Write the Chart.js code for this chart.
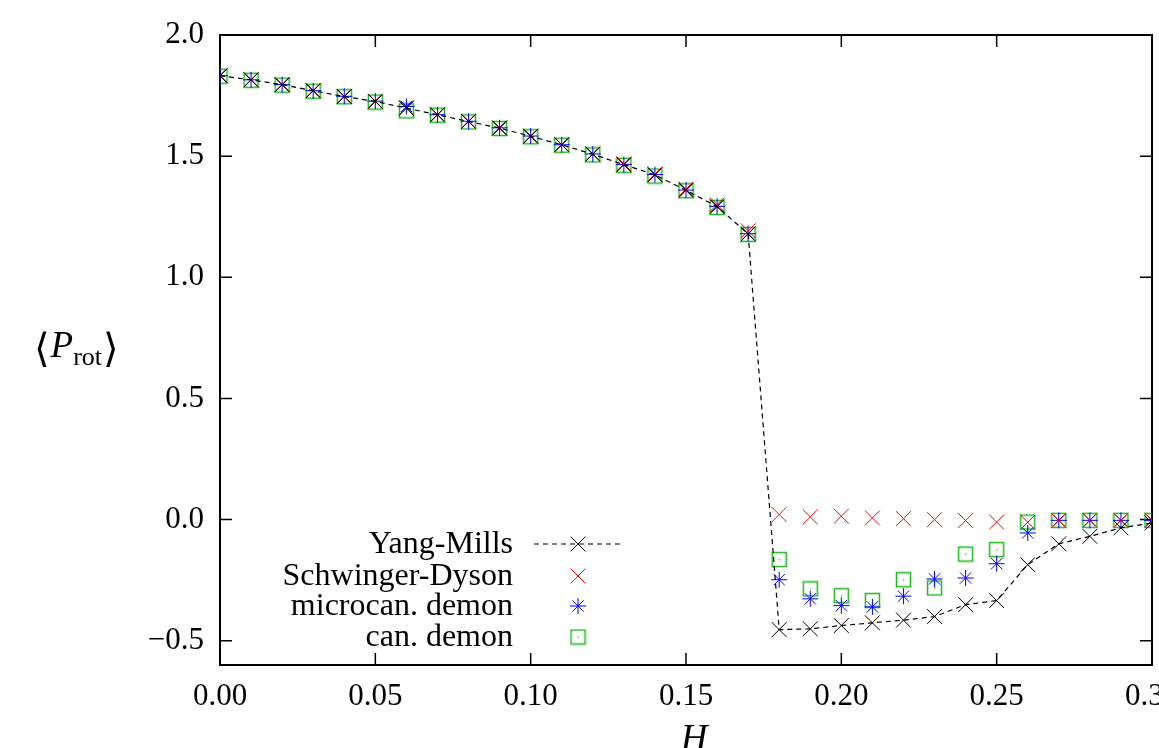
<!DOCTYPE html>
<html>
<head>
<meta charset="utf-8">
<script src="https://cdn.jsdelivr.net/npm/chart.js@4.4.1/dist/chart.umd.min.js"></script>
<style>
  html, body { margin: 0; padding: 0; overflow: hidden; background: #fff; }
  #wrap { position: absolute; left: 0; top: 0; width: 1200px; height: 748px; }
</style>
</head>
<body>
<div id="wrap"><canvas id="rotchart" width="1200" height="748"></canvas></div>
<script>
// H values
const hValues = [0.00, 0.01, 0.02, 0.03, 0.04, 0.05, 0.06, 0.07, 0.08, 0.09, 0.10,
  0.11, 0.12, 0.13, 0.14, 0.15, 0.16, 0.17, 0.18, 0.19, 0.20,
  0.21, 0.22, 0.23, 0.24, 0.25, 0.26, 0.27, 0.28, 0.29, 0.30];

const yangMills = [1.832, 1.815, 1.795, 1.770, 1.746, 1.726, 1.698, 1.671, 1.643, 1.616, 1.582,
  1.547, 1.508, 1.465, 1.423, 1.359, 1.292, 1.179, -0.454, -0.451, -0.437,
  -0.426, -0.415, -0.400, -0.351, -0.334, -0.186, -0.100, -0.069, -0.034, -0.014];

const schwingerDyson = [1.832, 1.815, 1.795, 1.771, 1.746, 1.726, 1.700, 1.671, 1.644, 1.616, 1.583,
  1.548, 1.510, 1.468, 1.426, 1.364, 1.300, 1.192, 0.021, 0.011, 0.014,
  0.007, 0.004, 0.000, -0.004, -0.010, -0.011, -0.004, -0.003, -0.003, -0.003];

const microcanDemon = [1.832, 1.815, 1.795, 1.770, 1.747, 1.727, 1.705, 1.671, 1.644, 1.617, 1.583,
  1.547, 1.509, 1.466, 1.424, 1.360, 1.293, 1.180, -0.248, -0.327, -0.355,
  -0.360, -0.316, -0.245, -0.241, -0.182, -0.055, -0.003, -0.003, -0.003, -0.003];

const canDemon = [1.830, 1.813, 1.793, 1.768, 1.745, 1.723, 1.687, 1.669, 1.641, 1.614, 1.580,
  1.545, 1.505, 1.462, 1.418, 1.357, 1.288, 1.177, -0.165, -0.286, -0.314,
  -0.334, -0.248, -0.282, -0.142, -0.124, -0.010, -0.003, -0.003, -0.003, -0.003];

const xTicks = [0.00, 0.05, 0.10, 0.15, 0.20, 0.25, 0.30];
const yTicks = [-0.5, 0.0, 0.5, 1.0, 1.5, 2.0];

const serif = '"Liberation Serif", "DejaVu Serif", serif';
const green = '#1cb81c';

// hollow square with a dot in the middle
const boxDot = document.createElement('canvas');
boxDot.width = 17;
boxDot.height = 17;
(function () {
  const c = boxDot.getContext('2d');
  c.strokeStyle = green;
  c.lineWidth = 1.5;
  c.strokeRect(1.5, 1.5, 14, 14);
  c.fillStyle = green;
  c.fillRect(8, 8, 1.3, 1.3);
})();

function pts(vals) {
  return hValues.map((h, i) => ({x: h, y: vals[i]}));
}

const series = [
  {label: 'Yang-Mills', data: yangMills, color: '#000', style: 'crossRot', r: 10.5},
  {label: 'Schwinger-Dyson', data: schwingerDyson, color: '#ff0000', style: 'crossRot', r: 10.5},
  {label: 'microcan. demon', data: microcanDemon, color: '#0000ff', style: 'star', r: 8},
  {label: 'can. demon', data: canDemon, color: green, style: boxDot, r: 8}
];

const frame = {
  id: 'frame',
  beforeDatasetsDraw(chart) {
    const {ctx, chartArea: a, scales: {x, y}} = chart;
    ctx.save();
    ctx.strokeStyle = '#000';
    ctx.lineWidth = 2;
    ctx.strokeRect(a.left, a.top, a.right - a.left, a.bottom - a.top);
    ctx.lineWidth = 1.5;
    ctx.beginPath();
    xTicks.forEach(v => {
      const px = x.getPixelForValue(v);
      ctx.moveTo(px, a.bottom); ctx.lineTo(px, a.bottom - 12);
      ctx.moveTo(px, a.top); ctx.lineTo(px, a.top + 12);
    });
    yTicks.forEach(v => {
      const py = y.getPixelForValue(v);
      ctx.moveTo(a.left, py); ctx.lineTo(a.left + 12, py);
      ctx.moveTo(a.right, py); ctx.lineTo(a.right - 12, py);
    });
    ctx.stroke();
    ctx.restore();
  },
  afterDraw(chart) {
    const ctx = chart.ctx;
    ctx.save();
    ctx.fillStyle = '#000';
    // axis titles
    ctx.textBaseline = 'alphabetic';
    let cx = 34;
    const base = 357;
    ctx.font = '40px ' + serif;
    ctx.fillText('\u27E8', cx, base + 5);
    cx += ctx.measureText('\u27E8').width + 1;
    ctx.font = 'italic 37px ' + serif;
    ctx.fillText('P', cx, base);
    cx += ctx.measureText('P').width;
    ctx.font = '26px ' + serif;
    ctx.fillText('rot', cx, base + 8);
    cx += ctx.measureText('rot').width + 1;
    ctx.font = '40px ' + serif;
    ctx.fillText('\u27E9', cx, base + 5);

    ctx.font = 'italic 37px ' + serif;
    ctx.textAlign = 'center';
    ctx.fillText('H', 694, 750);

    // legend
    const rows = [544, 576, 606, 637];
    ctx.font = '32px ' + serif;
    ctx.textAlign = 'right';
    ctx.textBaseline = 'middle';
    series.forEach((s, i) => {
      ctx.fillStyle = '#000';
      ctx.fillText(s.label, 513, rows[i] + 1);
      if (i === 0) {
        ctx.strokeStyle = '#000';
        ctx.lineWidth = 1.2;
        ctx.setLineDash([5, 4]);
        ctx.beginPath();
        ctx.moveTo(534, rows[i]);
        ctx.lineTo(622, rows[i]);
        ctx.stroke();
        ctx.setLineDash([]);
      }
      ctx.strokeStyle = s.color;
      ctx.fillStyle = s.color;
      ctx.lineWidth = 1;
      Chart.helpers.drawPoint(ctx, {pointStyle: s.style, radius: s.r, rotation: 0, borderWidth: 1}, 578, rows[i]);
    });
    ctx.restore();
  }
};

new Chart(document.getElementById('rotchart'), {
  type: 'line',
  plugins: [frame],
  data: {
    datasets: series.map((s, i) => ({
      label: s.label,
      data: pts(s.data),
      showLine: i === 0,
      borderColor: s.color,
      backgroundColor: s.color,
      borderWidth: 1.2,
      borderDash: [5, 4],
      tension: 0,
      pointStyle: s.style,
      pointRadius: s.r,
      pointHoverRadius: s.r,
      pointBorderWidth: 1,
      pointBorderColor: s.color,
      pointBackgroundColor: 'rgba(0,0,0,0)',
      order: i
    }))
  },
  options: {
    responsive: false,
    animation: false,
    layout: {padding: {left: 0, top: 35, right: 48, bottom: 0}},
    plugins: {
      legend: {display: false},
      tooltip: {enabled: false}
    },
    scales: {
      x: {
        type: 'linear',
        min: 0,
        max: 0.30,
        afterFit: s => { s.height = 83; },
        afterBuildTicks: s => { s.ticks = xTicks.map(v => ({value: v})); },
        border: {display: false},
        grid: {display: false, drawTicks: false},
        ticks: {
          color: '#000',
          padding: 13,
          maxRotation: 0,
          font: {family: serif, size: 31},
          callback: v => v.toFixed(2)
        }
      },
      y: {
        type: 'linear',
        min: -0.6,
        max: 2.0,
        afterFit: s => { s.width = 220; },
        afterBuildTicks: s => { s.ticks = yTicks.map(v => ({value: v})); },
        border: {display: false},
        grid: {display: false, drawTicks: false},
        ticks: {
          color: '#000',
          padding: 16,
          font: {family: serif, size: 31},
          callback: v => v.toFixed(1).replace('-', '\u2212')
        }
      }
    }
  }
});
</script>
</body>
</html>
